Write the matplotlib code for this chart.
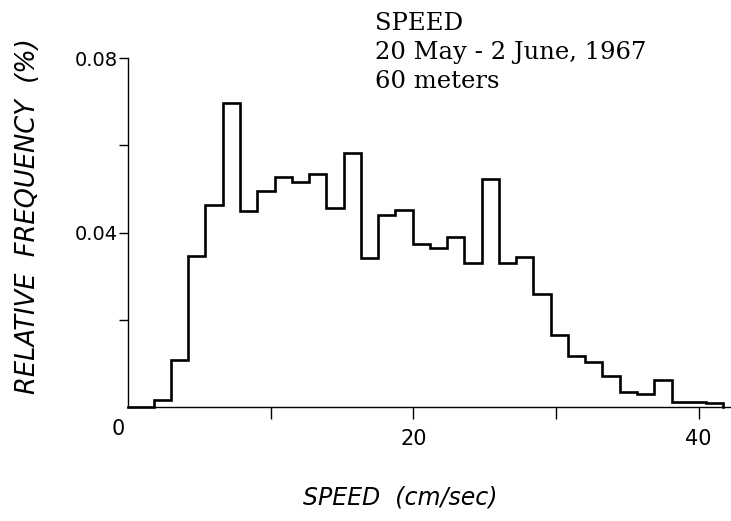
import numpy as np
import matplotlib
matplotlib.use("Agg")
import matplotlib.pyplot as plt

# histogram: 33 bins, each ~1.21 cm/sec wide, starting at 1.8
bin_start = 1.8
bin_width = 1.21
rel_freq = [0.0015, 0.0108, 0.0347, 0.0464, 0.0696, 0.0450, 0.0496, 0.0528,
            0.0515, 0.0534, 0.0456, 0.0582, 0.0342, 0.0441, 0.0452, 0.0373,
            0.0365, 0.0390, 0.0329, 0.0523, 0.0329, 0.0344, 0.0258, 0.0166,
            0.0117, 0.0103, 0.0072, 0.0034, 0.0030, 0.0063, 0.0012, 0.0012,
            0.0010]

x_ticks = [10, 20, 30, 40]
x_ticklabels = ["", "20", "", "40"]
y_ticks = [0.02, 0.04, 0.06, 0.08]
y_ticklabels = ["", "0.04", "", "0.08"]

title_lines = ["SPEED", "20 May - 2 June, 1967", "60 meters"]

edges = bin_start + bin_width * np.arange(len(rel_freq) + 1)

fig = plt.figure(figsize=(7.31, 5.21), dpi=100)
ax = fig.add_axes([128/731, 1 - 407/521, 602/731, 349/521])

# step outline, closed down to the axis at both ends
xs = np.concatenate([[0], np.repeat(edges, 2), [edges[-1]]])
ys = np.concatenate([[0, 0], np.repeat(rel_freq, 2), [0, 0]])
ax.plot(xs, ys, color="black", lw=1.9, solid_joinstyle="miter", clip_on=False)

ax.set_xlim(0, 42.2)
ax.set_ylim(0, 0.08)

for s in ["top", "right"]:
    ax.spines[s].set_visible(False)
for s in ["left", "bottom"]:
    ax.spines[s].set_linewidth(1.0)

ax.set_xticks(x_ticks)
ax.set_xticklabels(x_ticklabels, fontsize=15)
ax.set_yticks(y_ticks)
ax.set_yticklabels(y_ticklabels, fontsize=14)
ax.tick_params(axis="x", direction="out", length=8.5, width=1.0, pad=7)
ax.tick_params(axis="y", direction="out", length=6.5, width=1.0, pad=1)

# the lone "0" sits left of the origin, no tick there
ax.text(-0.65, -0.0028, "0", fontsize=15, ha="center", va="top")

fig.text(28/731, 1 - 216/521, "RELATIVE  FREQUENCY  (%)", rotation=90,
         fontsize=18.5, style="italic", ha="center", va="center")
fig.text(400/731, 1 - 497/521, "SPEED  (cm/sec)", fontsize=17,
         style="italic", ha="center", va="center")

for i, line in enumerate(title_lines):
    fig.text(375/731, 1 - (23 + 29*i)/521, line, fontsize=17.5,
             family="DejaVu Serif", ha="left", va="center")

fig.savefig("out.png", dpi=100)
